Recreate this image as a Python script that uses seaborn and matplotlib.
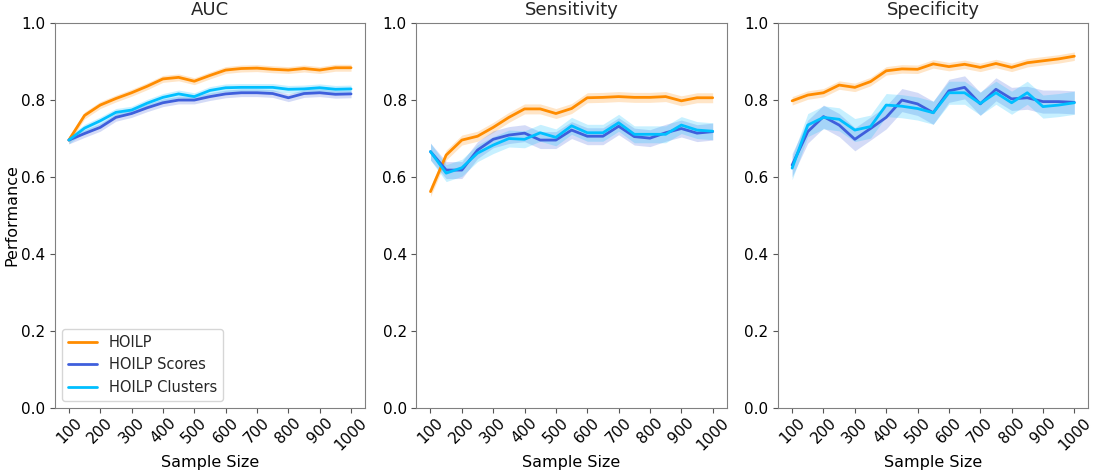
import numpy as np
import pandas as pd
import matplotlib
matplotlib.use("Agg")
import matplotlib.pyplot as plt
import seaborn as sns

sns.set_style("ticks")
plt.rcParams["font.family"] = ["DejaVu Sans"]
plt.rcParams["xtick.major.size"] = 3.5
plt.rcParams["ytick.major.size"] = 3.5

sample_sizes = list(range(100, 1001, 50))

# AUC
auc_hoilp = [0.696, 0.760, 0.787, 0.804, 0.819, 0.836, 0.855, 0.859, 0.849, 0.864,
             0.878, 0.882, 0.883, 0.880, 0.878, 0.882, 0.878, 0.884, 0.884]
auc_scores = [0.696, 0.713, 0.729, 0.755, 0.765, 0.780, 0.793, 0.800, 0.800, 0.809,
              0.816, 0.819, 0.819, 0.817, 0.806, 0.817, 0.819, 0.815, 0.816]
auc_clusters = [0.696, 0.727, 0.746, 0.768, 0.774, 0.792, 0.807, 0.816, 0.809, 0.825,
                0.832, 0.833, 0.833, 0.833, 0.828, 0.829, 0.832, 0.828, 0.829]

# Sensitivity
sens_hoilp = [0.562, 0.657, 0.696, 0.706, 0.729, 0.755, 0.777, 0.777, 0.765, 0.778,
              0.806, 0.807, 0.809, 0.807, 0.807, 0.809, 0.798, 0.806, 0.806]
sens_scores = [0.666, 0.618, 0.618, 0.670, 0.698, 0.709, 0.714, 0.696, 0.696, 0.722,
               0.706, 0.706, 0.732, 0.705, 0.701, 0.715, 0.726, 0.714, 0.718]
sens_clusters = [0.666, 0.610, 0.624, 0.662, 0.683, 0.700, 0.698, 0.715, 0.703, 0.733,
                 0.715, 0.715, 0.741, 0.711, 0.711, 0.711, 0.735, 0.722, 0.719]

# Specificity
spec_hoilp = [0.798, 0.813, 0.819, 0.839, 0.833, 0.848, 0.876, 0.881, 0.880, 0.894,
              0.887, 0.893, 0.885, 0.895, 0.885, 0.897, 0.902, 0.907, 0.914]
spec_scores = [0.631, 0.718, 0.757, 0.735, 0.698, 0.726, 0.755, 0.800, 0.790, 0.767,
               0.824, 0.833, 0.790, 0.828, 0.803, 0.806, 0.796, 0.796, 0.794]
spec_clusters = [0.623, 0.735, 0.755, 0.750, 0.722, 0.731, 0.787, 0.784, 0.778, 0.767,
                 0.819, 0.819, 0.791, 0.819, 0.793, 0.819, 0.783, 0.787, 0.793]

# approximate half-widths of the shaded bands (HOILP, Scores, Clusters)
auc_band = [0.009, 0.010, 0.010]
sens_band = [0.013, 0.022, 0.022]
spec_band = [0.011, 0.030, 0.030]

methods = ["HOILP", "HOILP Scores", "HOILP Clusters"]
colors = ["#ff8c00", "#3f5fdc", "#00bfff"]

panels = [
    ("AUC", [auc_hoilp, auc_scores, auc_clusters], auc_band),
    ("Sensitivity", [sens_hoilp, sens_scores, sens_clusters], sens_band),
    ("Specificity", [spec_hoilp, spec_scores, spec_clusters], spec_band),
]

fig, axes = plt.subplots(1, 3, figsize=(10.95, 4.72), dpi=100)
fig.subplots_adjust(left=0.05, right=0.994, top=0.951, bottom=0.136, wspace=0.165)

for ax, (title, series, bands) in zip(axes, panels):
    for name, vals, half, col in zip(methods, series, bands, colors):
        df = pd.DataFrame({"Sample Size": sample_sizes, "Performance": vals})
        sns.lineplot(data=df, x="Sample Size", y="Performance", color=col,
                     linewidth=2, label=name, ax=ax)
        v = np.array(vals)
        ax.fill_between(sample_sizes, v - half, v + half, color=col, alpha=0.22, linewidth=0)
    ax.set_title(title, fontsize=13)
    ax.set_ylim(0, 1.0)
    ax.set_yticks([0.0, 0.2, 0.4, 0.6, 0.8, 1.0])
    ax.set_xticks(range(100, 1001, 100))
    ax.tick_params(axis="x", labelrotation=45, labelsize=11, color="#555555",
                   labelcolor="black", pad=2)
    ax.tick_params(axis="y", labelsize=11, color="#555555", labelcolor="black")
    ax.set_xlabel("Sample Size", fontsize=11.5, labelpad=1, color="black")
    ax.set_ylabel("")
    for s in ax.spines.values():
        s.set_color("#808080")
        s.set_visible(True)
    if ax is not axes[0]:
        ax.get_legend().remove()

axes[0].set_ylabel("Performance", fontsize=11.5, color="black", labelpad=1)
axes[0].legend(loc="lower left", fontsize=10.5, frameon=True)

plt.savefig("out.png", dpi=100)
